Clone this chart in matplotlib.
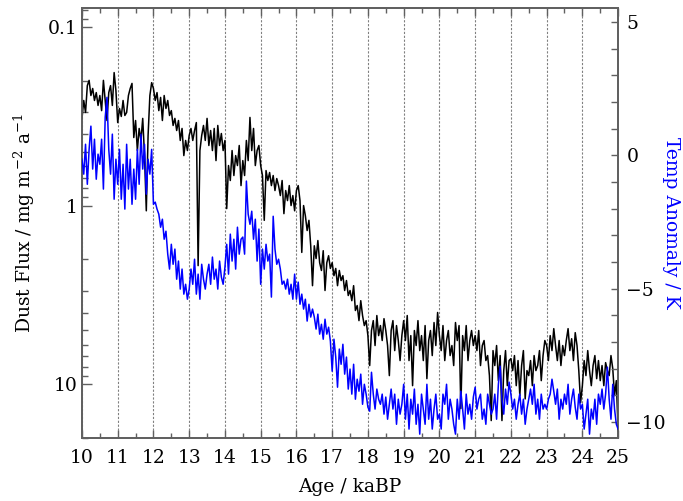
import numpy as np
import matplotlib
matplotlib.use("Agg")
import matplotlib.pyplot as plt
from matplotlib.ticker import MultipleLocator, FixedLocator, FuncFormatter, LogLocator, NullFormatter

plt.rcParams['font.family'] = ['DejaVu Serif']
plt.rcParams['mathtext.default'] = 'regular'
plt.rcParams['axes.unicode_minus'] = True

# Ages (kaBP), sampled every 50 years
age_start, age_end, age_step = 10.0, 25.0, 0.05
age = np.round(np.arange(age_start, age_end + age_step / 2, age_step), 3)

# Dust flux (mg m^-2 a^-1)
dust_flux = [
    0.325, 0.258, 0.301, 0.213, 0.199, 0.242, 0.221, 0.258, 0.233, 0.275,
    0.242, 0.294, 0.199, 0.258, 0.334, 0.233, 0.213, 0.275, 0.18, 0.227,
    0.343, 0.286, 0.317, 0.258, 0.313, 0.301, 0.242, 0.221, 0.207, 0.416,
    0.334, 0.492, 0.370, 0.432, 0.325, 0.525, 1.07, 0.405, 0.242, 0.205,
    0.221, 0.258, 0.233, 0.294, 0.248, 0.334, 0.242, 0.286, 0.258, 0.313,
    0.294, 0.356, 0.325, 0.380, 0.334, 0.432, 0.370, 0.525, 0.432, 0.492,
    0.405, 0.370, 0.432, 0.380, 0.343, 2.17, 0.492, 0.405, 0.356, 0.432,
    0.325, 0.461, 0.380, 0.492, 0.370, 0.560, 0.356, 0.461, 0.395, 0.492,
    0.432, 1.04, 0.597, 0.724, 0.492, 0.679, 0.525, 0.597, 0.461, 0.773,
    0.560, 0.679, 0.432, 0.560, 0.321, 0.492, 0.370, 0.597, 0.492, 0.461,
    0.597, 0.679, 1.21, 0.637, 0.724, 0.653, 0.773, 0.679, 0.824, 0.706,
    0.773, 0.879, 0.724, 1.11, 0.824, 0.938, 0.773, 1.0, 0.879, 1.07,
    0.824, 0.773, 0.938, 1.83, 1.0, 1.14, 1.38, 1.21, 1.68, 2.81,
    1.68, 1.98, 1.57, 2.09, 2.31, 1.79, 2.99, 2.09, 1.91, 2.25,
    2.09, 2.47, 2.25, 2.81, 2.31, 2.63, 2.47, 2.99, 2.63, 3.19,
    2.99, 3.41, 2.81, 3.87, 3.63, 4.41, 3.41, 4.13, 4.70, 4.41,
    5.35, 7.87, 5.01, 4.41, 6.08, 4.13, 5.35, 4.70, 5.70, 4.30,
    5.01, 6.08, 8.96, 5.01, 4.41, 6.49, 4.70, 5.70, 7.38, 5.35,
    4.41, 5.70, 4.13, 7.38, 5.35, 10.2, 5.01, 6.08, 4.41, 6.49,
    5.35, 7.38, 4.70, 9.32, 5.70, 5.01, 6.92, 4.52, 6.08, 3.97,
    5.35, 6.49, 4.70, 7.38, 5.70, 5.01, 6.92, 6.08, 7.87, 4.52,
    5.70, 4.70, 13.7, 5.35, 6.49, 4.70, 7.38, 5.70, 5.01, 6.08,
    5.35, 6.49, 5.01, 7.87, 6.08, 5.70, 7.38, 6.92, 8.96, 16.0,
    6.49, 7.87, 6.08, 9.56, 6.92, 16.0, 8.40, 6.49, 10.2, 7.38,
    7.20, 8.40, 6.92, 10.2, 7.38, 11.6, 7.87, 6.49, 12.1, 8.40,
    8.96, 7.38, 10.2, 6.92, 8.40, 7.87, 6.49, 9.56, 6.92, 5.70,
    6.08, 7.38, 5.35, 6.49, 4.89, 6.08, 7.38, 5.70, 7.87, 6.08,
    6.92, 5.70, 4.89, 6.49, 5.57, 7.38, 5.15, 6.08, 8.40, 12.7,
    10.2, 7.38, 8.96, 6.49, 8.40, 10.2, 7.87, 6.92, 9.32, 7.38,
    9.56, 7.87, 10.2, 7.58, 8.40, 8.96, 6.92, 8.19, 11.6, 9.56,
    18.2,
]

# Temperature anomaly (K)
temp_anomaly = [
    -0.15, -0.71, 0.41, -1.09, 0.22, 1.09, -0.52, 0.60, -0.90, 0.04,
    -0.34, 0.60, -1.27, 1.42, 2.17, 0.22, -0.71, 0.79, -1.65, -0.15,
    -1.09, 0.22, -1.65, -0.34, -2.02, 0.41, -1.27, -0.15, -1.84, -0.52,
    -1.65, 0.22, -1.09, 0.79, -0.52, 0.41, -1.46, -0.15, -0.71, 0.22,
    -1.84, -1.76, -2.02, -2.21, -2.70, -2.40, -3.15, -2.85, -3.71, -4.27,
    -3.34, -4.09, -3.52, -4.65, -3.97, -5.02, -4.27, -5.21, -4.84, -5.40,
    -5.02, -4.27, -4.84, -3.90, -5.21, -4.46, -5.40, -4.09, -4.65, -5.02,
    -4.46, -4.09, -4.84, -3.82, -4.65, -4.27, -5.02, -3.97, -4.57, -4.84,
    -4.20, -3.34, -4.46, -2.96, -3.97, -3.15, -4.27, -2.70, -3.71, -3.15,
    -3.07, -3.71, -0.97, -2.21, -2.59, -2.10, -3.15, -2.40, -3.97, -2.77,
    -4.84, -3.52, -4.27, -3.34, -3.97, -3.71, -5.32, -2.29, -3.52, -4.09,
    -3.90, -4.27, -4.84, -4.72, -5.02, -4.65, -5.21, -4.84, -5.40, -4.46,
    -5.40, -4.76, -5.59, -5.21, -5.77, -5.40, -6.22, -5.59, -6.07, -5.77,
    -6.07, -6.52, -5.96, -6.71, -6.34, -6.90, -6.15, -6.71, -6.45, -6.97,
    -8.10, -6.90, -7.57, -8.70, -7.27, -7.84, -7.09, -8.21, -7.57, -8.77,
    -8.02, -8.96, -7.84, -9.15, -8.40, -8.85, -8.21, -9.34, -8.59, -8.96,
    -9.45, -9.60, -8.14, -8.96, -9.52, -8.77, -9.15, -9.34, -8.96, -9.71,
    -9.07, -9.90, -9.34, -8.77, -9.52, -8.96, -10.09, -9.15, -9.71, -9.34,
    -8.59, -9.90, -8.96, -10.27, -9.15, -9.71, -8.77, -10.09, -9.34, -10.46,
    -8.96, -9.52, -10.09, -8.59, -9.90, -9.15, -10.27, -9.52, -8.96, -9.90,
    -9.71, -10.27, -8.96, -9.34, -8.59, -9.90, -9.15, -9.52, -10.09, -10.46,
    -9.15, -9.90, -8.85, -9.52, -10.27, -8.96, -9.71, -9.34, -9.90, -9.07,
    -8.70, -9.52, -9.15, -8.96, -9.90, -9.52, -10.09, -8.96, -9.34, -9.71,
    -9.52, -8.96, -9.90, -8.59, -7.91, -9.15, -9.71, -8.77, -9.34, -8.51,
    -8.96, -9.52, -9.15, -9.90, -9.34, -8.96, -9.71, -9.15, -10.09, -9.52,
    -9.15, -8.77, -9.34, -8.59, -9.71, -9.15, -9.90, -8.96, -9.52, -9.34,
    -9.52, -9.15, -8.96, -8.40, -8.85, -9.34, -8.77, -9.90, -9.15, -9.52,
    -8.96, -9.34, -8.59, -9.71, -9.15, -8.77, -9.45, -9.90, -8.96, -9.52,
    -9.34, -10.27, -9.71, -9.15, -10.46, -9.52, -9.90, -9.15, -10.09, -8.96,
    -9.34, -8.77, -9.52, -8.96, -7.95, -9.15, -9.90, -8.59, -9.52, -10.09,
    -10.27,
]

x_ticks = list(range(10, 26))
dust_ticks = [0.1, 1, 10]
temp_ticks = [5, 0, -5, -10]

spine_color = '#606060'
fs = 13.5

fig = plt.figure(figsize=(6.83, 5.01), dpi=100)
ax = fig.add_axes([0.120, 0.126, 0.785, 0.858])
ax2 = ax.twinx()

ax.plot(age, dust_flux, color='black', lw=1.1, zorder=3)
ax2.plot(age, temp_anomaly, color='#0000ff', lw=1.1, zorder=3)

ax.set_xlim(10, 25)
ax.set_yscale('log')
ax.set_ylim(20.0, 0.0783)
ax2.set_ylim(-10.6, 5.52)

ax.xaxis.set_major_locator(FixedLocator(x_ticks))
ax.xaxis.set_minor_locator(MultipleLocator(0.5))
ax.grid(axis='x', which='major', color='#808080', ls=(0, (2, 1.5)), lw=0.8)
ax.set_axisbelow(True)

ax.yaxis.set_major_locator(FixedLocator(dust_ticks))
ax.yaxis.set_major_formatter(FuncFormatter(lambda v, p: f'{v:g}'))
ax.yaxis.set_minor_locator(LogLocator(base=10, subs=np.arange(2, 10), numticks=20))
ax.yaxis.set_minor_formatter(NullFormatter())

ax2.yaxis.set_major_locator(FixedLocator(temp_ticks))
ax2.yaxis.set_minor_locator(MultipleLocator(1))
ax2.yaxis.set_major_formatter(FuncFormatter(lambda v, p: f'{v:g}'.replace('-', '\u2212')))

for a in (ax, ax2):
    for s in a.spines.values():
        s.set_color(spine_color)
        s.set_linewidth(1.3)

ax.tick_params(axis='x', which='both', direction='in', top=True, bottom=True,
               colors=spine_color, labelcolor='black', labelsize=fs, pad=8)
ax.tick_params(axis='x', which='major', length=6, width=1)
ax.tick_params(axis='x', which='minor', length=3.5, width=1)
ax.tick_params(axis='y', which='both', direction='in', right=False,
               colors=spine_color, labelcolor='black', labelsize=fs, pad=3)
ax.tick_params(axis='y', which='major', length=7, width=1)
ax.tick_params(axis='y', which='minor', length=4, width=1)
ax2.tick_params(axis='y', which='both', direction='in', colors=spine_color,
                labelcolor='black', labelsize=fs, pad=6, length=5, width=1)

ax.set_xlabel('Age / kaBP', fontsize=fs, labelpad=8)
ax.set_ylabel('Dust Flux / mg m$^{-2}$ a$^{-1}$', fontsize=fs, labelpad=8)
fig.text(671 / 683, 0.555, 'Temp Anomaly / K', fontsize=fs, color='#0000ff',
         rotation=270, ha='center', va='center')

fig.savefig('out.png', dpi=100)
